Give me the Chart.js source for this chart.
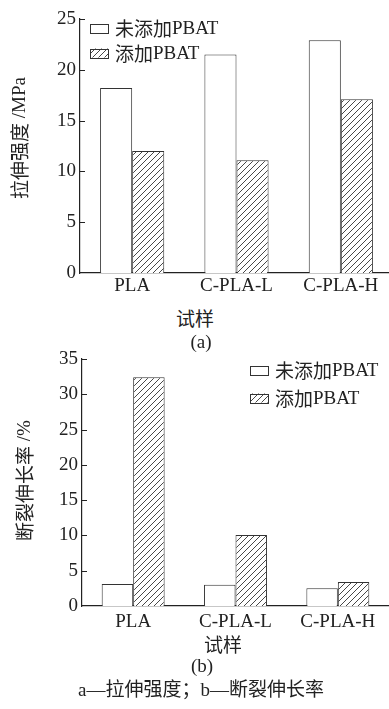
<!DOCTYPE html>
<html>
<head>
<meta charset="utf-8">
<script src="https://cdn.jsdelivr.net/npm/chart.js@4.4.1/dist/chart.umd.min.js"></script>
<style>
  body { margin: 0; background: #fff; }
  #wrap { position: relative; width: 389px; height: 709px; overflow: hidden; }
  canvas { position: absolute; left: 0; }
  .lbl { position: absolute; transform: translate(-50%, -50%); white-space: nowrap;
         font-family: 'Liberation Serif', serif; font-size: 19px; color: #222; line-height: 1; }
  .cjk { font-family: 'Noto Sans CJK SC', sans-serif; }
  .lat { font-family: 'Liberation Serif', serif; }
</style>
</head>
<body>
<div id="wrap">
  <canvas id="grafA" style="top:0px"></canvas>
  <canvas id="grafB" style="top:340px"></canvas>
  <div class="lbl cjk" style="left:195px; top:317px">试样</div>
  <div class="lbl" style="left:201px; top:341px">(a)</div>
  <div class="lbl cjk" style="left:223px; top:643px">试样</div>
  <div class="lbl" style="left:202px; top:665px">(b)</div>
  <div class="lbl" style="left:201px; top:688px"><span class="lat">a—</span><span class="cjk">拉伸强度；</span><span class="lat">b—</span><span class="cjk">断裂伸长率</span></div>
</div>
<script>
//-> DADOS...
const amostras = ['PLA', 'C-PLA-L', 'C-PLA-H'];
const series = ['未添加PBAT', '添加PBAT'];
// (a) tensile strength, MPa
const tracaoSem = [18.2, 21.5, 22.9];
const tracaoCom = [12.0, 11.1, 17.1];
// (b) elongation at break, %
const alongSem = [3.1, 3.0, 2.5];
const alongCom = [32.4, 10.05, 3.4];
const ticksA = [0, 5, 10, 15, 20, 25];
const ticksB = [0, 5, 10, 15, 20, 25, 30, 35];

const fonteLat = "'Liberation Serif', serif";
const fonteCjk = "'Noto Sans CJK SC', sans-serif";
const tinta = '#222';

function hachura() {
  const c = document.createElement('canvas');
  c.width = 6; c.height = 6;
  const g = c.getContext('2d');
  g.fillStyle = '#fff';
  g.fillRect(0, 0, 6, 6);
  g.strokeStyle = '#333';
  g.lineWidth = 0.9;
  g.beginPath();
  g.moveTo(0, 6); g.lineTo(6, 0);
  g.moveTo(-1, 1); g.lineTo(1, -1);
  g.moveTo(5, 7); g.lineTo(7, 5);
  g.stroke();
  return document.createElement('canvas').getContext('2d').createPattern(c, 'repeat');
}
const padrao = hachura();

// draws text mixing Chinese (sans CJK) and Latin (serif) pieces
function textoMisto(ctx, txt, x, y, centro) {
  const partes = txt.match(/[\u2E80-\u9FFF\u3000-\u303F\uFF00-\uFFEF]+|[^\u2E80-\u9FFF\u3000-\u303F\uFF00-\uFFEF]+/g);
  const fontes = partes.map(p => '19px ' + (/[\u2E80-\u9FFF\u3000-\u303F\uFF00-\uFFEF]/.test(p) ? fonteCjk : fonteLat));
  const larg = partes.map((p, i) => { ctx.font = fontes[i]; return ctx.measureText(p).width; });
  let px = centro ? x - larg.reduce((a, b) => a + b, 0) / 2 : x;
  ctx.textAlign = 'left';
  ctx.textBaseline = 'middle';
  partes.forEach((p, i) => {
    ctx.font = fontes[i];
    ctx.fillText(p, px, y);
    px += larg[i];
  });
}

// inward tick marks on the y axis
const ticksDentro = {
  id: 'ticksDentro',
  afterDraw(chart) {
    const y = chart.scales.y, ctx = chart.ctx;
    ctx.save();
    ctx.strokeStyle = tinta;
    ctx.lineWidth = 1;
    y.ticks.forEach(t => {
      if (t.value === 0) return;
      const py = Math.round(y.getPixelForValue(t.value)) + 0.5;
      ctx.beginPath();
      ctx.moveTo(y.right, py);
      ctx.lineTo(y.right + 5, py);
      ctx.stroke();
    });
    ctx.restore();
  }
};

// legend inside the plot and rotated y title
const textos = {
  id: 'textos',
  afterDraw(chart, args, opts) {
    const ctx = chart.ctx, area = chart.chartArea;
    ctx.save();
    chart.data.datasets.forEach((ds, i) => {
      const bx = area.left + opts.dx;
      const cy = area.top + opts.dy + i * opts.gap;
      ctx.fillStyle = ds.backgroundColor;
      ctx.fillRect(bx, cy - 4.5, 18, 9);
      ctx.strokeStyle = '#333';
      ctx.lineWidth = 1;
      ctx.strokeRect(bx + 0.5, Math.round(cy - 4.5) + 0.5, 18, 9);
      ctx.fillStyle = tinta;
      textoMisto(ctx, ds.label, bx + 25, cy + 1, false);
    });
    ctx.translate(opts.tituloX, (area.top + area.bottom) / 2 + opts.tituloDy);
    ctx.rotate(-Math.PI / 2);
    ctx.fillStyle = tinta;
    textoMisto(ctx, opts.titulo, 0, 0, true);
    ctx.restore();
  }
};

function montar(id, largura, altura, semVal, comVal, tickVals, cfg) {
  const cv = document.getElementById(id);
  cv.width = largura; cv.height = altura;
  cv.style.width = largura + 'px'; cv.style.height = altura + 'px';
  return new Chart(cv.getContext('2d'), {
    type: 'bar',
    data: {
      labels: amostras,
      datasets: [{
        label: series[0],
        data: semVal,
        backgroundColor: '#fff',
        borderColor: '#333',
        borderWidth: 1
      }, {
        label: series[1],
        data: comVal,
        backgroundColor: padrao,
        borderColor: '#333',
        borderWidth: 1
      }]
    },
    options: {
      responsive: false,
      animation: false,
      devicePixelRatio: 1,
      layout: { padding: { top: cfg.top, right: 0, left: 0, bottom: 0 } },
      datasets: { bar: { barPercentage: 1, categoryPercentage: 0.615 } },
      plugins: {
        legend: { display: false },
        tooltip: { enabled: false },
        textos: cfg.textos
      },
      scales: {
        x: {
          grid: { display: false, drawTicks: false },
          border: { color: tinta, width: 1.2 },
          ticks: { color: tinta, font: { family: fonteLat, size: 19 }, padding: cfg.xPad },
          afterFit: s => { s.height = cfg.xAltura; }
        },
        y: {
          min: tickVals[0],
          max: tickVals[tickVals.length - 1],
          afterBuildTicks: s => { s.ticks = tickVals.map(v => ({ value: v })); },
          grid: { display: false, drawTicks: false },
          border: { color: tinta, width: 1.2 },
          ticks: { color: tinta, font: { family: fonteLat, size: 19 }, padding: 4 },
          afterFit: s => { s.width = cfg.yLargura; }
        }
      }
    },
    plugins: [ticksDentro, textos]
  });
}

montar('grafA', 393, 300, tracaoSem, tracaoCom, ticksA, {
  top: 19, xAltura: 27, xPad: 2, yLargura: 80,
  textos: { dx: 10, dy: 9, gap: 25, titulo: '拉伸强度 /MPa', tituloX: 20, tituloDy: -8 }
});

montar('grafB', 389, 295, alongSem, alongCom, ticksB, {
  top: 19, xAltura: 29, xPad: 5, yLargura: 82,
  textos: { dx: 168, dy: 11, gap: 28, titulo: '断裂伸长率 /%', tituloX: 25, tituloDy: -2 }
});
</script>
</body>
</html>
